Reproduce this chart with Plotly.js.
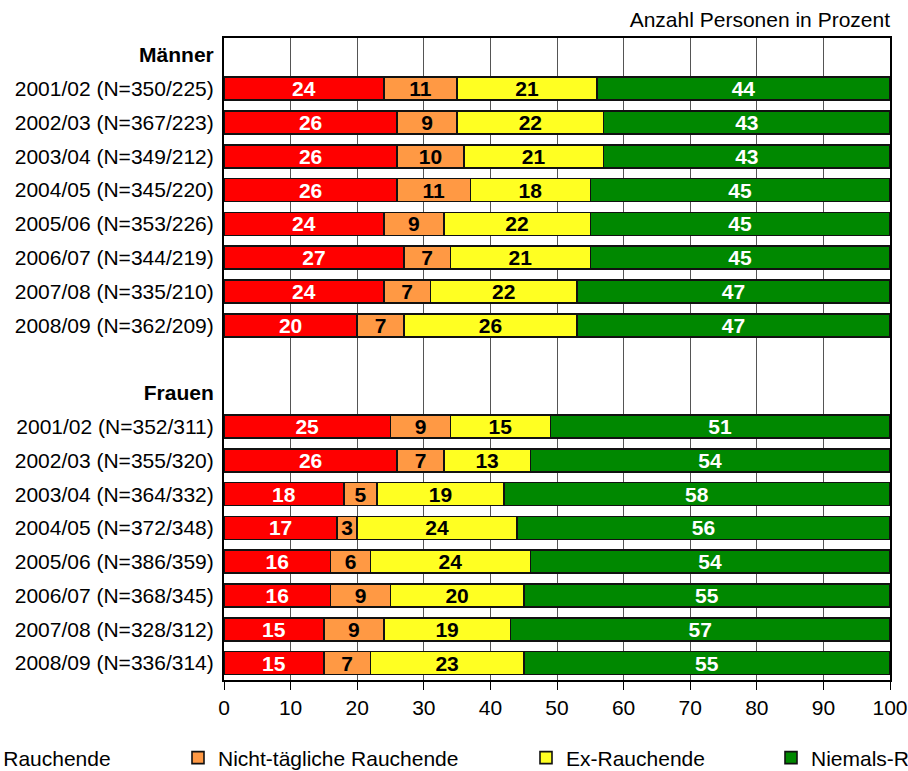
<!DOCTYPE html>
<html>
<head>
<meta charset="utf-8">
<script src="https://cdn.plot.ly/plotly-3.0.1.min.js"></script>
<style>html,body{margin:0;padding:0;background:#fff;} #chart{width:908px;height:771px;}</style>
</head>
<body>
<div id="chart"></div>
<script>
// ---- data ----
var periods = ['2001/02','2002/03','2003/04','2004/05','2005/06','2006/07','2007/08','2008/09'];
var menN   = ['350/225','367/223','349/212','345/220','353/226','344/219','335/210','362/209'];
var womenN = ['352/311','355/320','364/332','372/348','386/359','368/345','328/312','336/314'];

var menDaily     = [24, 26, 26, 26, 24, 27, 24, 20];
var menNonDaily  = [11,  9, 10, 11,  9,  7,  7,  7];
var menEx        = [21, 22, 21, 18, 22, 21, 22, 26];
var menNever     = [44, 43, 43, 45, 45, 45, 47, 47];

var womenDaily    = [25, 26, 18, 17, 16, 16, 15, 15];
var womenNonDaily = [ 9,  7,  5,  3,  6,  9,  9,  7];
var womenEx       = [15, 13, 19, 24, 24, 20, 19, 23];
var womenNever    = [51, 54, 58, 56, 54, 55, 57, 55];

var seriesNames = ['Tägliche Rauchende','Nicht-tägliche Rauchende','Ex-Rauchende','Niemals-Rauchende'];
var groupNames = ['Männer','Frauen'];
var titleText = 'Anzahl Personen in Prozent';
var xTicks = [0,10,20,30,40,50,60,70,80,90,100];

// ---- build categories ----
var menLabels = periods.map(function(p,i){ return p + ' (N=' + menN[i] + ')'; });
var womenLabels = periods.map(function(p,i){ return p + ' (N=' + womenN[i] + ')'; });
var cats = [groupNames[0]].concat(menLabels, ['__gap__', groupNames[1]], womenLabels);
var catText = ['<b>' + groupNames[0] + '</b>'].concat(menLabels, ['', '<b>' + groupNames[1] + '</b>'], womenLabels);
var yCats = menLabels.concat(womenLabels);

var seriesValues = [
  menDaily.concat(womenDaily),
  menNonDaily.concat(womenNonDaily),
  menEx.concat(womenEx),
  menNever.concat(womenNever)
];
var fills = ['#ff0000','#ff9944','#ffff22','#008800'];
var textColors = ['#ffffff','#000000','#000000','#ffffff'];
var legendIds = ['legend','legend2','legend3','legend4'];

var FONT = 'Liberation Sans, Arial, Helvetica, sans-serif';

var traces = seriesValues.map(function(vals, k){
  return {
    type: 'bar',
    orientation: 'h',
    name: seriesNames[k],
    x: vals,
    y: yCats,
    text: vals.map(String),
    textposition: 'inside',
    insidetextanchor: 'middle',
    textangle: 0,
    constraintext: 'none',
    textfont: {family: FONT, size: 21, color: textColors[k], weight: 'bold'},
    marker: {color: fills[k], line: {color: '#111111', width: 1.6}},
    legend: legendIds[k],
    hoverinfo: 'x+y+name'
  };
});

// legend positions given as pixel left edges in the 908px-wide figure
var plotL = 224, plotW = 666;
function leg(xpx){
  return {
    orientation: 'h', xref: 'paper', yref: 'container',
    x: (xpx - plotL) / plotW, xanchor: 'left', y: 1 - 758/771, yanchor: 'middle',
    font: {family: FONT, size: 21, color: '#000'},
    bgcolor: 'rgba(0,0,0,0)', borderwidth: 0
  };
}

var layout = {
  width: 908, height: 771,
  paper_bgcolor: '#ffffff', plot_bgcolor: '#ffffff',
  font: {family: FONT, size: 21, color: '#000'},
  margin: {l: 224, r: 18, t: 38, b: 91, pad: 0, autoexpand: false},
  barmode: 'stack',
  bargap: 0.32,
  showlegend: true,
  title: {text: titleText, xref: 'paper', x: 1, xanchor: 'right', yref: 'container', y: 1 - 20/771, yanchor: 'middle',
          font: {family: FONT, size: 21, color: '#000'}},
  xaxis: {
    range: [0, 100], tickmode: 'array', tickvals: xTicks, ticktext: xTicks.map(String),
    ticks: 'outside', ticklen: 8, tickwidth: 1.2, tickcolor: '#000',
    showgrid: true, gridcolor: '#555555', gridwidth: 1.4,
    showline: true, linecolor: '#000', linewidth: 2, mirror: true,
    zeroline: false, fixedrange: true,
    tickfont: {family: FONT, size: 21, color: '#000'}
  },
  yaxis: {
    type: 'category', categoryorder: 'array', categoryarray: cats,
    tickmode: 'array', tickvals: cats, ticktext: catText,
    range: [cats.length - 0.5, -0.5],
    ticks: '', ticklabelstandoff: 4,
    showgrid: false, showline: true, linecolor: '#000', linewidth: 2, mirror: true,
    zeroline: false, fixedrange: true,
    tickfont: {family: FONT, size: 21, color: '#000'}
  },
  legend: leg(-122),
  legend2: leg(178),
  legend3: leg(526),
  legend4: leg(771)
};

Plotly.newPlot('chart', traces, layout, {displayModeBar: false});
</script>
</body>
</html>
